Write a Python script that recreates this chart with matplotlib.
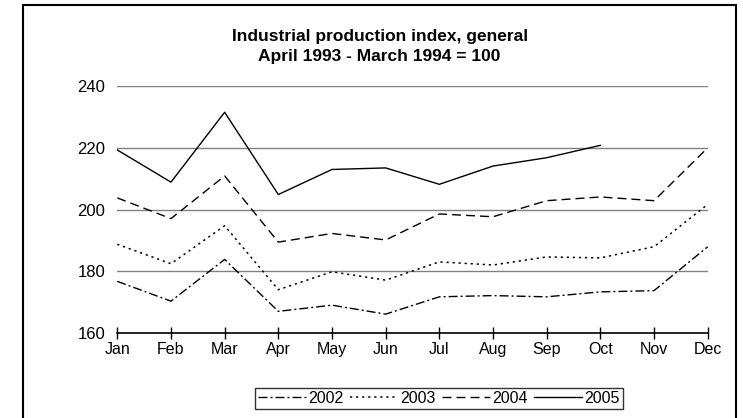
import matplotlib
matplotlib.use("Agg")
import matplotlib.pyplot as plt
from matplotlib.patches import Rectangle
import numpy as np

months = ["Jan", "Feb", "Mar", "Apr", "May", "Jun", "Jul", "Aug", "Sep", "Oct", "Nov", "Dec"]
y2002 = [176.8, 170.4, 183.9, 167.1, 169.1, 166.2, 171.8, 172.2, 171.8, 173.4, 173.8, 188.0]
y2003 = [188.8, 182.5, 194.8, 174.1, 179.9, 177.2, 183.1, 182.1, 184.7, 184.4, 188.0, 201.7]
y2004 = [203.8, 197.1, 210.9, 189.5, 192.3, 190.2, 198.6, 197.7, 202.9, 204.1, 202.9, 220.0]
y2005 = [219.3, 208.9, 231.5, 204.9, 213.0, 213.5, 208.2, 214.1, 216.8, 220.8]
yticks = [160, 180, 200, 220, 240]

plt.rcParams['font.family'] = ['Liberation Sans', 'DejaVu Sans']

W, H = 743, 418
fig = plt.figure(figsize=(W / 100, H / 100), dpi=100)

# outer border
fig.patches.append(Rectangle((23 / W, -0.05), (736 - 23) / W, 1 - 5 / H + 0.05,
                             transform=fig.transFigure, fill=False,
                             edgecolor='black', linewidth=1.5))

left, right = 117.3 / W, 707.7 / W
bottom, top = 1 - 333.3 / H, 1 - 86 / H
ax = fig.add_axes([left, bottom, right - left, top - bottom])
ax.set_xlim(0, 11)
ax.set_ylim(160, 240)

x = np.arange(len(months))
px = 0.72
ax.plot(x, y2002, color='black', lw=1.0, dashes=(9 * px, 3 * px, 2 * px, 3 * px), label='2002')
ax.plot(x, y2003, color='black', lw=1.1, dashes=(2 * px, 3.5 * px), label='2003')
ax.plot(x, y2004, color='black', lw=1.0, dashes=(9 * px, 5 * px), label='2004')
ax.plot(x[:len(y2005)], y2005, color='black', lw=1.0, label='2005')

for v in yticks[1:]:
    ax.axhline(v, color='#808080', lw=1.0, zorder=0)

for s in ['top', 'right', 'left']:
    ax.spines[s].set_visible(False)
ax.spines['bottom'].set_linewidth(1.2)
ax.spines['bottom'].set_color('black')

ax.set_xticks(x)
ax.set_xticklabels(months, fontsize=11.5)
ax.set_yticks(yticks)
ax.set_yticklabels([str(v) for v in yticks], fontsize=12)
ax.tick_params(axis='x', direction='inout', length=8, width=1, pad=2)
ax.tick_params(axis='y', length=0, pad=8.6)

fig.text(0.511, 1 - 37 / H, "Industrial production index, general", ha='center', va='center',
         fontsize=12.5, fontweight='bold')
fig.text(0.511, 1 - 56 / H, "April 1993 - March 1994 = 100", ha='center', va='center',
         fontsize=12.5, fontweight='bold')

leg = fig.legend(loc='center', bbox_to_anchor=(439 / W, 1 - 398.5 / H), ncol=4,
                 fontsize=11.5, frameon=True, fancybox=False, handlelength=3.0,
                 handletextpad=0.15, columnspacing=0.4, borderpad=0.2,
                 borderaxespad=0)
leg.get_frame().set_edgecolor('black')
leg.get_frame().set_linewidth(1.0)

fig.savefig("out.png", dpi=100)
